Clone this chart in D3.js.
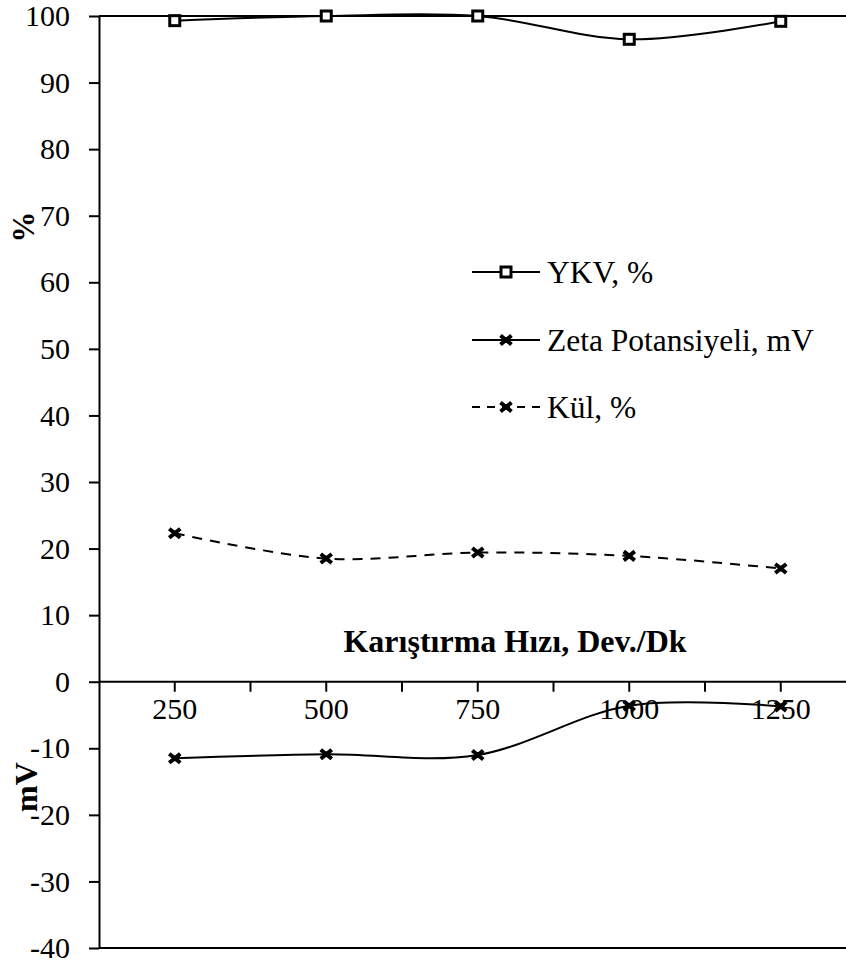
<!DOCTYPE html>
<html>
<head>
<meta charset="utf-8">
<script src="https://cdnjs.cloudflare.com/ajax/libs/d3/7.8.5/d3.min.js"></script>
<style>
  body { margin: 0; background: #fff; }
  svg text { font-family: "Liberation Serif", "Times New Roman", serif; fill: #000; }
  .axis path, .axis line { stroke: #000; stroke-width: 2; }
</style>
</head>
<body>
<svg id="chart" width="846" height="961"></svg>
<script>
const speeds = ['250', '500', '750', '1000', '1250'];
const ykv = [99.3, 100, 100, 96.5, 99.2];
const zeta = [-11.5, -10.9, -11.0, -3.6, -3.7];
const kul = [22.3, 18.5, 19.4, 18.9, 17.0];
const yTicks = [-40, -30, -20, -10, 0, 10, 20, 30, 40, 50, 60, 70, 80, 90, 100];

const series = [
  { name: 'YKV, %', values: ykv, marker: 'square', dash: null },
  { name: 'Zeta Potansiyeli, mV', values: zeta, marker: 'star', dash: null },
  { name: 'Kül, %', values: kul, marker: 'star', dash: '10,8' }
];

const MARGIN = { top: 16, left: 99, bottom: 13 };
const WIDTH = 846, HEIGHT = 961;
const FONT = 30;
const SERIF = '"Liberation Serif", "Times New Roman", serif';

const $svg = d3.select('#chart');

const x = d3.scaleBand().domain(speeds).range([MARGIN.left, MARGIN.left + 151.5 * 5]);
const y = d3.scaleLinear().domain([-40, 100]).range([HEIGHT - MARGIN.bottom, MARGIN.top]);
const cx = d => x(d) + x.bandwidth() / 2;

// frame lines (top / bottom), the right side falls out of view
$svg.append('line').attr('x1', MARGIN.left).attr('x2', WIDTH).attr('y1', y(100)).attr('y2', y(100))
  .attr('stroke', '#000').attr('stroke-width', 2);
$svg.append('line').attr('x1', MARGIN.left).attr('x2', WIDTH).attr('y1', y(-40)).attr('y2', y(-40))
  .attr('stroke', '#000').attr('stroke-width', 2);

// y axis
const gy = $svg.append('g').attr('class', 'axis')
  .attr('transform', `translate(${MARGIN.left},0)`)
  .call(d3.axisLeft(y).tickValues(yTicks).tickSize(10).tickSizeOuter(0).tickPadding(19)
    .tickFormat(d => String(d)));
gy.attr('font-family', SERIF).attr('font-size', FONT);
gy.selectAll('text').attr('font-family', SERIF).attr('font-size', FONT).attr('dy', '0.32em');

// x axis at zero
const gx = $svg.append('g').attr('class', 'axis')
  .attr('transform', `translate(0,${y(0)})`)
  .call(d3.axisBottom(x).tickSize(10).tickSizeOuter(0).tickPadding(6));
gx.attr('font-family', SERIF).attr('font-size', FONT);
gx.select('.domain').attr('d', `M${MARGIN.left},0H${WIDTH}`);
gx.selectAll('text').attr('font-family', SERIF).attr('font-size', FONT);
// tick marks between categories
gx.selectAll('.mid').data(speeds.slice(1)).enter().append('line')
  .attr('class', 'mid')
  .attr('x1', d => x(d)).attr('x2', d => x(d))
  .attr('y1', 0).attr('y2', 10);

// titles
$svg.append('text')
  .attr('transform', `translate(34,227) rotate(-90)`)
  .attr('text-anchor', 'middle')
  .attr('font-size', 31).attr('font-weight', 'bold')
  .text('%');
$svg.append('text')
  .attr('transform', `translate(37,787) rotate(-90)`)
  .attr('text-anchor', 'middle')
  .attr('font-size', 32).attr('font-weight', 'bold')
  .text('mV');
$svg.append('text')
  .attr('x', 515).attr('y', 652)
  .attr('text-anchor', 'middle')
  .attr('font-size', 32).attr('font-weight', 'bold')
  .text('Karıştırma Hızı, Dev./Dk');

// lines
const line = d3.line()
  .x((d, i) => cx(speeds[i]))
  .y(d => y(d))
  .curve(d3.curveCatmullRom.alpha(0));

function drawMarker(g, type) {
  if (type === 'square') {
    g.append('rect').attr('x', -5).attr('y', -5).attr('width', 10).attr('height', 10)
      .attr('fill', '#fff').attr('stroke', '#000').attr('stroke-width', 3);
  } else {
    g.append('path').attr('d', 'M-5.5,-4.5L5.5,4.5M-5.5,4.5L5.5,-4.5M-3,0H3M0,-3V3')
      .attr('fill', 'none').attr('stroke', '#000').attr('stroke-width', 4);
  }
}

series.forEach(s => {
  $svg.append('path')
    .attr('d', line(s.values))
    .attr('fill', 'none').attr('stroke', '#000').attr('stroke-width', 2)
    .attr('stroke-dasharray', s.dash);
  s.values.forEach((v, i) => {
    const g = $svg.append('g').attr('transform', `translate(${cx(speeds[i])},${y(v)})`);
    drawMarker(g, s.marker);
  });
});

// legend
const legendY = [272, 340, 407];
series.forEach((s, i) => {
  const g = $svg.append('g').attr('transform', `translate(472,${legendY[i]})`);
  g.append('line').attr('x1', 0).attr('x2', 68).attr('y1', 0).attr('y2', 0)
    .attr('stroke', '#000').attr('stroke-width', 2)
    .attr('stroke-dasharray', s.dash ? '8,7' : null);
  const m = g.append('g').attr('transform', 'translate(34,0)');
  drawMarker(m, s.marker);
  g.append('text').attr('x', 75).attr('y', 0).attr('dy', '0.35em')
    .attr('font-size', 31.5).text(s.name);
});
</script>
</body>
</html>
